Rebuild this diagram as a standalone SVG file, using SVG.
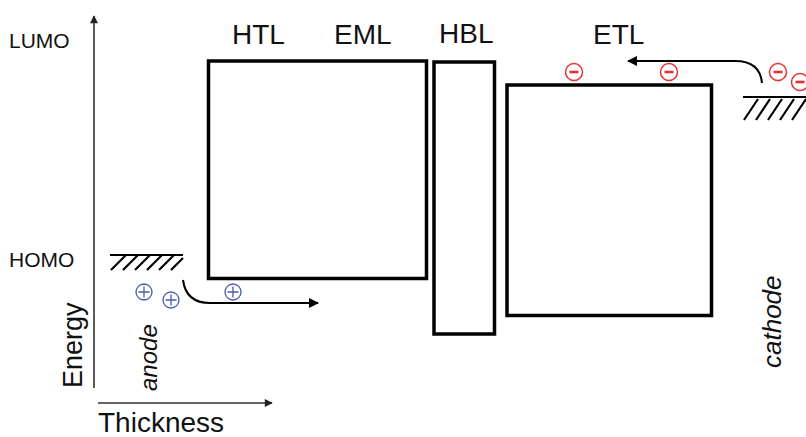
<svg xmlns="http://www.w3.org/2000/svg" width="806" height="437" viewBox="0 0 806 437">
  <style>
    .layer { fill: none; stroke: #000; stroke-width: 3.5; }
    .axis { fill: none; stroke: #333; stroke-width: 1.6; }
    .flow { fill: none; stroke: #000; stroke-width: 2; }
    .hatch { fill: none; stroke: #000; stroke-width: 2.2; }
    .lbl { font-family: "Liberation Sans", Arial, sans-serif; fill: #111; }
  </style>
  <defs>
    <marker id="ah" viewBox="0 0 10 10" refX="9" refY="5" markerWidth="12" markerHeight="8" markerUnits="userSpaceOnUse" orient="auto">
      <path d="M0,0 L10,5 L0,10 z" fill="#222"/>
    </marker>
    <marker id="ahBig" viewBox="0 0 10 10" refX="9" refY="5" markerWidth="15" markerHeight="10" markerUnits="userSpaceOnUse" orient="auto">
      <path d="M0,0 L10,5 L0,10 z" fill="#000"/>
    </marker>
    <!-- hole: blue circled plus -->
    <g id="plus" fill="none" stroke="#4a5bb0" stroke-width="1.3">
      <circle r="8" fill="#fff"/>
      <path d="M-5.5,0 H5.5 M0,-5.5 V5.5"/>
    </g>
    <!-- electron: red circled minus -->
    <g id="minus" fill="none" stroke="#e83030">
      <circle r="8.5" stroke-width="1.5" fill="#fff"/>
      <path d="M-4.5,0 H4.5" stroke-width="2.6"/>
    </g>
  </defs>

  <!-- axes -->
  <g id="axes">
    <line class="axis" x1="94" y1="388" x2="94" y2="16" marker-end="url(#ah)"/>
    <line class="axis" x1="98" y1="403" x2="272" y2="403" marker-end="url(#ah)"/>
    <text class="lbl" x="9" y="48" font-size="21">LUMO</text>
    <text class="lbl" x="9" y="267" font-size="21">HOMO</text>
    <text class="lbl" font-size="27" transform="translate(82,388) rotate(-90)">Energy</text>
    <text class="lbl" x="98" y="432" font-size="28">Thickness</text>
  </g>

  <!-- organic layers -->
  <g id="htl-eml">
    <rect class="layer" x="208.5" y="61" width="218" height="217.5"/>
    <text class="lbl" x="232" y="44" font-size="28">HTL</text>
    <text class="lbl" x="334" y="44" font-size="28">EML</text>
  </g>
  <g id="hbl">
    <rect class="layer" x="434" y="62" width="60.5" height="272"/>
    <text class="lbl" x="439" y="43" font-size="28">HBL</text>
  </g>
  <g id="etl">
    <rect class="layer" x="507" y="85" width="204.5" height="230.5"/>
    <text class="lbl" x="593" y="44" font-size="28">ETL</text>
  </g>

  <!-- anode contact -->
  <g id="anode">
    <line class="hatch" x1="110" y1="255" x2="183" y2="255"/>
    <path class="hatch" d="M111,270 L126,255 M123,270 L138,255 M135,270 L150,255 M147,270 L162,255 M159,270 L174,255 M171,270 L183,258"/>
    <text class="lbl" font-size="24" font-style="italic" transform="translate(157,391) rotate(-90)">anode</text>
  </g>

  <!-- cathode contact -->
  <g id="cathode">
    <line class="hatch" x1="743" y1="97" x2="806" y2="97"/>
    <path class="hatch" d="M744,120 L758,99 M756,120 L770,99 M768,120 L782,99 M780,120 L794,99 M792,120 L806,99"/>
    <text class="lbl" font-size="26" font-style="italic" transform="translate(781,368) rotate(-90)">cathode</text>
  </g>

  <!-- injection paths -->
  <g id="connectors">
    <path class="flow" d="M183,280 Q186,303 210,303 L318,303" marker-end="url(#ahBig)"/>
    <path class="flow" d="M762,83 Q760,61 735,61 L628,61" marker-end="url(#ahBig)"/>
  </g>

  <!-- charge carriers -->
  <g id="holes">
    <use href="#plus" x="144" y="292"/>
    <use href="#plus" x="171" y="300"/>
    <use href="#plus" x="233" y="292"/>
  </g>
  <g id="electrons">
    <use href="#minus" x="574" y="72"/>
    <use href="#minus" x="669" y="72"/>
    <use href="#minus" x="778" y="72"/>
    <use href="#minus" x="800" y="82"/>
  </g>
</svg>
